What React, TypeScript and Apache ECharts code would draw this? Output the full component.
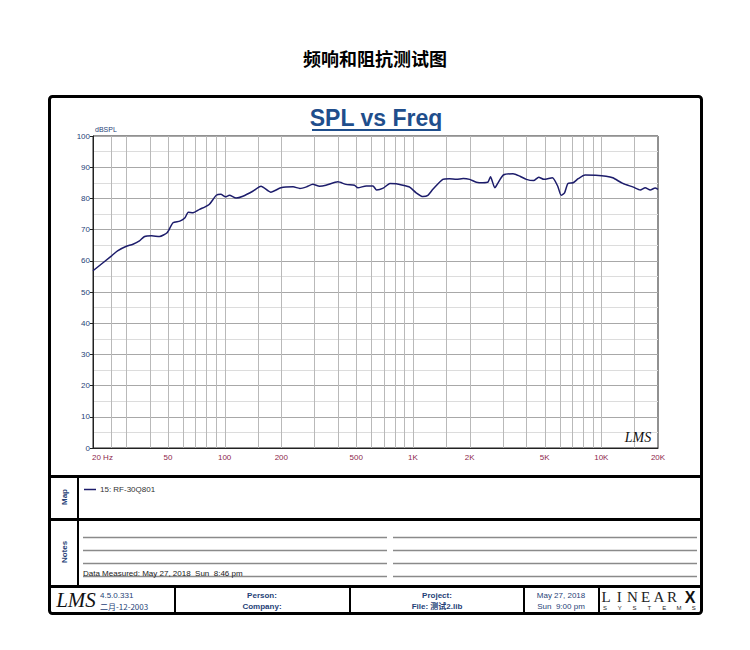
import React, { useEffect, useRef } from "react";
import * as echarts from "echarts";

const freqs = [20, 25.1, 27.0, 29.9, 32.6, 35.3, 37.6, 40.9, 45.1, 49.5, 53.2, 57.8, 61.6, 64.1, 68, 73.6, 78.3, 83, 90.3, 95.5, 101, 106, 115, 125, 141, 156, 176, 199, 231, 251, 272, 294, 319, 345, 399, 441, 489, 510, 565, 613, 641, 695, 755, 815, 885, 960, 1040, 1130, 1200, 1275, 1440, 1560, 1700, 1850, 2000, 2170, 2350, 2500, 2580, 2720, 2830, 3020, 3400, 3700, 4000, 4370, 4650, 4960, 5500, 5870, 6120, 6380, 6650, 7090, 7540, 8200, 9330, 10600, 11500, 13000, 14800, 16100, 17100, 18200, 19300, 20000];
const spl = [56.8, 61.6, 63.2, 64.6, 65.3, 66.4, 67.8, 68.0, 67.8, 69.0, 72.2, 72.7, 73.8, 75.6, 75.4, 76.5, 77.2, 78.1, 81.0, 81.3, 80.5, 81.0, 80.1, 80.7, 82.3, 83.9, 82.0, 83.4, 83.7, 83.2, 83.7, 84.5, 83.9, 84.2, 85.3, 84.5, 84.2, 83.4, 84.0, 84.0, 82.7, 83.3, 84.8, 84.7, 84.2, 83.6, 81.8, 80.6, 81.0, 82.9, 86.1, 86.3, 86.1, 86.4, 86.1, 85.2, 85.0, 85.2, 86.9, 83.4, 85.0, 87.5, 87.9, 87.1, 86.1, 85.7, 86.8, 86.1, 86.6, 83.9, 81.0, 81.8, 84.8, 85.0, 86.3, 87.5, 87.4, 87.1, 86.6, 84.8, 83.6, 82.7, 83.4, 82.7, 83.3, 82.9];

const gridFreqs = [25, 30, 40, 50, 60, 70, 80, 90, 100, 150, 200, 300, 400, 500, 600, 700, 800, 900, 1000, 1500, 2000, 3000, 4000, 5000, 6000, 7000, 8000, 9000, 10000, 15000];
const tickFreqs = [20, 50, 100, 200, 500, 1000, 2000, 5000, 10000, 20000];
const tickLabels = ["20 Hz", "50", "100", "200", "500", "1K", "2K", "5K", "10K", "20K"];

const pageTitle = "频响和阻抗测试图";
const chartTitle = "SPL vs Freq";
const yUnit = "dBSPL";
const legendName = "15: RF-30Q801";

const NAVY = "#1f3f77";
const SMALL = '8px "Liberation Sans", Arial, sans-serif';
const SMALLB = 'bold 8px "Liberation Sans", Arial, sans-serif';

export default function App() {
  const ref = useRef<HTMLDivElement>(null);
  useEffect(() => {
    document.body.style.margin = "0";
    const chart = echarts.init(ref.current!, undefined, { renderer: "svg" });

    const txt = (x: number, y: number, text: string, font: string, fill: string, align = "left", extra: any = {}) => ({
      type: "text",
      x,
      y,
      ...extra,
      style: { text, font, fill, textAlign: align, textVerticalAlign: "middle" },
      z: 10,
    });
    const ln = (x1: number, y1: number, x2: number, y2: number, stroke: string, lineWidth: number) => ({
      type: "line",
      shape: { x1, y1, x2, y2 },
      style: { stroke, lineWidth },
      z: 10,
    });

    const notesLines: any[] = [];
    [537.5, 550.5, 563.5, 576.5].forEach((y) => {
      notesLines.push(ln(83, y, 387, y, "#8a8a8a", 1.5));
      notesLines.push(ln(393, y, 697, y, "#8a8a8a", 1.5));
    });

    const sysLetters = "SYSTEMS".split("").map((c, i) =>
      txt(605 + i * 14.8, 608, c, '6px "Liberation Sans", Arial, sans-serif', "#222", "center")
    );
    const linearLetters = "LINEAR".split("").map((c, i) =>
      txt(606 + i * 13.2, 597, c, '15px "Liberation Serif", serif', "#222", "center")
    );

    chart.setOption({
      animation: false,
      grid: { left: 93, top: 136, width: 565, height: 312, show: true, borderColor: "#222", borderWidth: 1, backgroundColor: "transparent" },
      xAxis: {
        type: "log",
        logBase: 10,
        min: 20,
        max: 20000,
        axisLine: { show: true, lineStyle: { color: "#222", width: 1 } },
        axisTick: { show: false },
        axisLabel: { show: false },
        splitLine: { show: false },
      },
      yAxis: {
        type: "value",
        min: 0,
        max: 100,
        interval: 10,
        axisLine: { show: true, lineStyle: { color: "#222", width: 1 } },
        axisTick: { show: true, length: 3, lineStyle: { color: "#222" } },
        axisLabel: { color: NAVY, fontSize: 8, fontFamily: '"Liberation Sans", Arial, sans-serif', margin: 3 },
        splitLine: { show: true, lineStyle: { color: "#a8a8a8", width: 1 } },
        minorTick: { show: false, splitNumber: 2 },
        minorSplitLine: { show: true, lineStyle: { color: "#dcdcdc", width: 1 } },
      },
      series: [
        {
          type: "custom",
          clip: false,
          z: 1,
          silent: true,
          encode: { x: 0, y: 1 },
          data: gridFreqs.map((f) => [f, 0]),
          renderItem: (params: any, api: any) => {
            const b = api.coord([api.value(0), 0]);
            const t = api.coord([api.value(0), 100]);
            const x = Math.round(b[0]) + 0.5;
            return {
              type: "line",
              shape: { x1: x, y1: b[1], x2: x, y2: t[1] },
              style: { stroke: "#b9b9b9", lineWidth: 1 },
            };
          },
        },
        {
          type: "custom",
          clip: false,
          z: 2,
          silent: true,
          encode: { x: 0, y: 1 },
          data: tickFreqs.map((f, i) => [f, 0, i]),
          renderItem: (params: any, api: any) => {
            const b = api.coord([api.value(0), 0]);
            const i = api.value(2);
            return {
              type: "text",
              x: i === 0 ? b[0] - 1 : b[0],
              y: b[1] + 9,
              style: {
                text: tickLabels[i],
                fill: "#8e1f4d",
                font: '8px "Liberation Sans", Arial, sans-serif',
                textAlign: i === 0 ? "left" : "center",
                textVerticalAlign: "middle",
              },
            };
          },
        },
        {
          type: "line",
          name: legendName,
          z: 5,
          showSymbol: false,
          smooth: 0.2,
          data: freqs.map((f, i) => [f, spl[i]]),
          lineStyle: { color: "#1c1c6b", width: 1.5 },
        },
      ],
      graphic: [
        txt(375, 58, pageTitle, 'bold 18px "Noto Sans CJK SC", sans-serif', "#000", "center"),
        { type: "rect", shape: { x: 49.5, y: 96.5, width: 652, height: 517, r: 3 }, style: { fill: "none", stroke: "#000", lineWidth: 3 }, z: 10 },
        txt(376, 118, chartTitle, 'bold 23px "Liberation Sans", Arial, sans-serif', "#1f4e8c", "center"),
        ln(312, 130, 440, 130, "#1f4e8c", 2),
        txt(95, 129, yUnit, '7px "Liberation Sans", Arial, sans-serif', NAVY, "left"),
        txt(638, 437, "LMS", 'italic 14px "Liberation Serif", serif', "#111", "center"),
        ln(49, 476.5, 702, 476.5, "#000", 3),
        ln(49, 519.5, 702, 519.5, "#000", 3),
        ln(49, 586.5, 702, 586.5, "#000", 3),
        ln(78, 476, 78, 586, "#000", 2),
        txt(64, 497, "Map", SMALLB, NAVY, "center", { rotation: Math.PI / 2 }),
        ln(84, 489.5, 96, 489.5, "#1c1c6b", 1.5),
        txt(100, 489.5, legendName, SMALL, "#333", "left"),
        txt(64, 552, "Notes", SMALLB, NAVY, "center", { rotation: Math.PI / 2 }),
        ...notesLines,
        txt(83, 573, "Data Measured: May 27, 2018  Sun  8:46 pm", SMALL, "#222", "left"),
        ln(175, 586, 175, 614, "#000", 2),
        ln(350, 586, 350, 614, "#000", 2),
        ln(524, 586, 524, 614, "#000", 2),
        ln(599, 586, 599, 614, "#000", 2),
        txt(76, 600, "LMS", 'italic 21px "Liberation Serif", serif', "#111", "center"),
        txt(100, 595.5, "4.5.0.331", SMALL, NAVY, "left"),
        txt(100, 606, "二月-12-2003", '8px "Noto Sans CJK SC", sans-serif', NAVY, "left"),
        txt(262, 595.5, "Person:", SMALLB, NAVY, "center"),
        txt(262, 606, "Company:", SMALLB, NAVY, "center"),
        txt(437, 595.5, "Project:", SMALLB, NAVY, "center"),
        txt(437, 606, "File: 测试2.lib", 'bold 8px "Liberation Sans", "Noto Sans CJK SC", sans-serif', NAVY, "center"),
        txt(561, 595.5, "May 27, 2018", SMALL, NAVY, "center"),
        txt(561, 606, "Sun  9:00 pm", SMALL, NAVY, "center"),
        ...linearLetters,
        txt(690, 597, "X", 'bold 16px "Liberation Sans", Arial, sans-serif', "#111", "center"),
        ...sysLetters,
      ],
    });
    return () => chart.dispose();
  }, []);
  return <div ref={ref} style={{ position: "absolute", left: 0, top: 0, width: 750, height: 650 }} />;
}
